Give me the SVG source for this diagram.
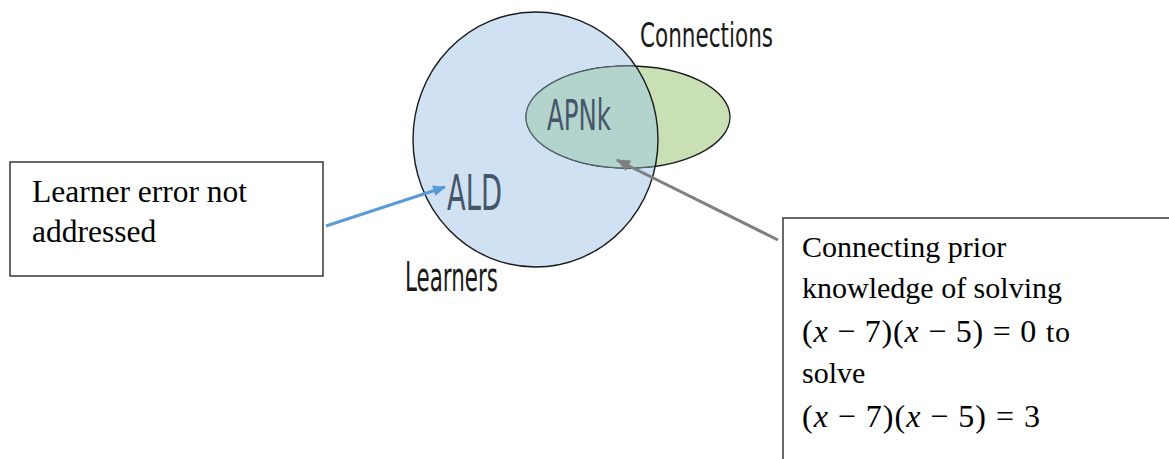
<svg xmlns="http://www.w3.org/2000/svg" width="1169" height="459" viewBox="0 0 1169 459">
<style>
.venn{font-family:"DejaVu Sans","Liberation Sans",sans-serif;}
.dark{fill:#1a1a1a;}
.slate{fill:#46566a;}
.box{fill:#ffffff;stroke:#1a1a1a;stroke-width:1.3;}
.body{font-family:"Liberation Serif","Times New Roman",serif;font-size:30px;fill:#000;}
.big{font-size:31.5px;}
.math{font-size:32px;}
.it{font-style:italic;}
</style>
<defs>
<marker id="ahBlue" markerWidth="13" markerHeight="11" refX="12" refY="5.5" orient="auto" markerUnits="userSpaceOnUse" viewBox="0 0 13 11">
<path d="M0,0 L13,5.5 L0,11 z" fill="#5b9bd5"/>
</marker>
<marker id="ahGray" markerWidth="14" markerHeight="12" refX="13" refY="6" orient="auto" markerUnits="userSpaceOnUse" viewBox="0 0 14 12">
<path d="M0,0 L14,6 L0,12 z" fill="#7f7f7f"/>
</marker>
<clipPath id="circClip"><ellipse cx="535.5" cy="139.5" rx="122.5" ry="127.5"/></clipPath>
</defs>
<g id="venn">
<g id="learners-set">
<ellipse cx="535.5" cy="139.5" rx="122.5" ry="127.5" fill="#cfe1f2"/>
</g>
<g id="connections-set">
<ellipse cx="628" cy="117" rx="102" ry="51" fill="#c8e0b4" stroke="#1a1a1a" stroke-width="1.3"/>
<ellipse cx="628" cy="117" rx="102" ry="51" fill="#b3d4cc" stroke="#5a6a70" stroke-width="1.2" clip-path="url(#circClip)"/>
</g>
<ellipse cx="535.5" cy="139.5" rx="122.5" ry="127.5" fill="none" stroke="#1a1a1a" stroke-width="1.4"/>
<text class="venn dark" x="640" y="47" font-size="34" textLength="133" lengthAdjust="spacingAndGlyphs">Connections</text>
<text class="venn slate" x="547" y="130" font-size="42" textLength="64" lengthAdjust="spacingAndGlyphs">APNk</text>
<text class="venn slate" x="447" y="210" font-size="49" textLength="55" lengthAdjust="spacingAndGlyphs">ALD</text>
<text class="venn dark" x="405" y="291" font-size="40" textLength="93" lengthAdjust="spacingAndGlyphs">Learners</text>
</g>
<g id="box-left">
<rect class="box" x="10" y="162" width="313" height="114"/>
<text class="body big" x="32" y="202">Learner error not</text>
<text class="body big" x="32" y="242">addressed</text>
</g>
<g id="box-right">
<rect class="box" x="783" y="218" width="400" height="300"/>
<text class="body" x="802" y="257">Connecting prior</text>
<text class="body" x="802" y="298">knowledge of solving</text>
<text class="body math" x="802" y="342" textLength="268" lengthAdjust="spacing">(<tspan class="it">x</tspan> − 7)(<tspan class="it">x</tspan> − 5) = 0 <tspan style="font-size:30px">to</tspan></text>
<text class="body" x="802" y="383">solve</text>
<text class="body math" x="802" y="427" textLength="238" lengthAdjust="spacing">(<tspan class="it">x</tspan> − 7)(<tspan class="it">x</tspan> − 5) = 3</text>
</g>
<g id="connectors">
<line x1="326" y1="226" x2="445" y2="187" stroke="#5b9bd5" stroke-width="3" marker-end="url(#ahBlue)"/>
<line x1="778" y1="240" x2="617" y2="160" stroke="#7f7f7f" stroke-width="3" marker-end="url(#ahGray)"/>
</g>
</svg>
